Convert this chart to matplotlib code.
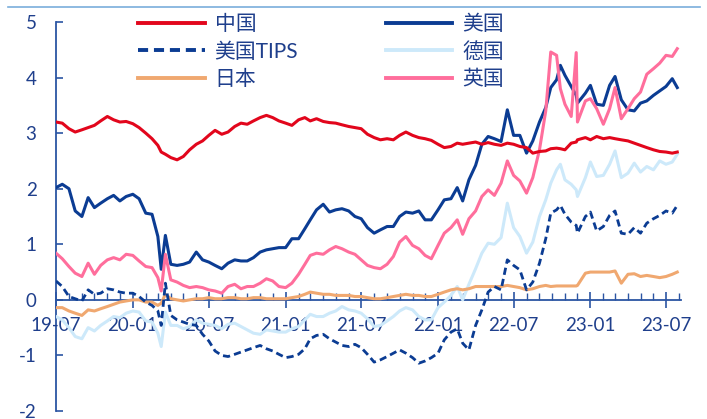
import matplotlib
matplotlib.use("Agg")
import matplotlib.pyplot as plt
import matplotlib.dates as mdates
from matplotlib.lines import Line2D
import pandas as pd

plt.rcParams['font.family'] = ['Lato', 'Noto Sans CJK SC', 'DejaVu Sans']

# observation dates (roughly twice a month, plus a few turning points)
dates = [
    # 2019 H2
    "2019-07-01", "2019-07-16", "2019-08-01", "2019-08-16", "2019-09-01", "2019-09-16",
    "2019-10-01", "2019-10-16", "2019-11-01", "2019-11-16", "2019-12-01", "2019-12-16",
    # 2020 H1
    "2020-01-01", "2020-01-16", "2020-02-01", "2020-02-16", "2020-03-01", "2020-03-09",
    "2020-03-19", "2020-04-01", "2020-04-16", "2020-05-01", "2020-05-16", "2020-06-01",
    "2020-06-16",
    # 2020 H2
    "2020-07-01", "2020-07-16", "2020-08-01", "2020-08-16", "2020-09-01", "2020-09-16",
    "2020-10-01", "2020-10-16", "2020-11-01", "2020-11-16", "2020-12-01", "2020-12-16",
    # 2021 H1
    "2021-01-01", "2021-01-16", "2021-02-01", "2021-02-16", "2021-03-01", "2021-03-16",
    "2021-04-01", "2021-04-16", "2021-05-01", "2021-05-16", "2021-06-01", "2021-06-16",
    # 2021 H2
    "2021-07-01", "2021-07-16", "2021-08-01", "2021-08-16", "2021-09-01", "2021-09-16",
    "2021-10-01", "2021-10-16", "2021-11-01", "2021-11-16", "2021-12-01", "2021-12-16",
    # 2022 H1
    "2022-01-01", "2022-01-16", "2022-02-01", "2022-02-16", "2022-03-01", "2022-03-16",
    "2022-04-01", "2022-04-16", "2022-05-01", "2022-05-16", "2022-06-01", "2022-06-16",
    # 2022 H2
    "2022-07-01", "2022-07-16", "2022-08-01", "2022-08-16", "2022-09-01", "2022-09-16",
    "2022-09-28", "2022-10-12", "2022-10-21", "2022-11-01", "2022-11-16", "2022-11-28",
    "2022-12-01", "2022-12-20",
    # 2023
    "2023-01-01", "2023-01-16", "2023-02-01", "2023-02-16", "2023-03-01", "2023-03-16",
    "2023-04-01", "2023-04-16", "2023-05-01", "2023-05-16", "2023-06-01", "2023-06-16",
    "2023-07-01", "2023-07-16", "2023-07-28",
]

# 10-year government bond yields, %
china = [
    3.20, 3.18, 3.08, 3.02, 3.06, 3.10, 3.14, 3.22, 3.30, 3.24, 3.20, 3.21,
    3.17, 3.10, 3.00, 2.90, 2.78, 2.66, 2.62, 2.56, 2.52, 2.58, 2.70, 2.80, 2.86,
    2.96, 3.05, 2.98, 3.02, 3.12, 3.18, 3.16, 3.22, 3.28, 3.32, 3.28, 3.22,
    3.18, 3.14, 3.24, 3.28, 3.22, 3.26, 3.21, 3.19, 3.18, 3.15, 3.12, 3.10,
    3.08, 2.98, 2.92, 2.88, 2.90, 2.88, 2.96, 3.02, 2.96, 2.92, 2.90, 2.87,
    2.80, 2.74, 2.76, 2.82, 2.80, 2.82, 2.84, 2.80, 2.83, 2.80, 2.78, 2.82,
    2.80, 2.76, 2.74, 2.64, 2.67, 2.68, 2.72, 2.73, 2.72, 2.70, 2.82, 2.84, 2.88, 2.92,
    2.88, 2.94, 2.90, 2.92, 2.90, 2.88, 2.86, 2.82, 2.78, 2.74, 2.70, 2.67,
    2.66, 2.64, 2.66,
]
usa = [
    2.02, 2.08, 2.00, 1.60, 1.50, 1.84, 1.66, 1.74, 1.82, 1.88, 1.78, 1.86,
    1.90, 1.82, 1.56, 1.54, 1.14, 0.55, 1.16, 0.64, 0.62, 0.64, 0.68, 0.86, 0.72,
    0.68, 0.62, 0.56, 0.66, 0.72, 0.70, 0.70, 0.76, 0.86, 0.90, 0.92, 0.94,
    0.94, 1.10, 1.10, 1.28, 1.44, 1.62, 1.72, 1.58, 1.62, 1.64, 1.60, 1.50,
    1.46, 1.30, 1.20, 1.26, 1.32, 1.32, 1.50, 1.58, 1.56, 1.60, 1.44, 1.44,
    1.62, 1.80, 1.82, 2.02, 1.78, 2.16, 2.42, 2.80, 2.94, 2.90, 2.85, 3.42,
    2.96, 2.96, 2.64, 2.86, 3.20, 3.46, 3.82, 3.96, 4.22, 4.04, 3.84, 3.68, 3.54, 3.72,
    3.86, 3.52, 3.50, 3.86, 4.02, 3.60, 3.42, 3.40, 3.54, 3.58, 3.68, 3.76,
    3.84, 3.98, 3.82,
]
usa_tips = [
    0.34, 0.24, 0.06, 0.02, -0.02, 0.18, 0.10, 0.12, 0.20, 0.18, 0.14, 0.12,
    0.12, 0.06, -0.04, -0.10, -0.20, -0.46, 0.30, -0.28, -0.36, -0.40, -0.44, -0.46, -0.62,
    -0.74, -0.92, -1.00, -1.02, -0.98, -0.94, -0.90, -0.86, -0.82, -0.88, -0.92, -0.98,
    -1.04, -1.02, -0.98, -0.88, -0.70, -0.64, -0.62, -0.70, -0.76, -0.82, -0.84, -0.80,
    -0.86, -0.98, -1.12, -1.08, -1.02, -0.96, -0.90, -0.96, -1.04, -1.14, -1.10, -1.04,
    -0.96, -0.72, -0.58, -0.52, -0.78, -0.90, -0.46, -0.18, 0.14, 0.24, 0.18, 0.72,
    0.62, 0.54, 0.18, 0.32, 0.66, 1.10, 1.56, 1.62, 1.70, 1.54, 1.40, 1.34, 1.20, 1.50,
    1.58, 1.24, 1.32, 1.52, 1.60, 1.20, 1.18, 1.30, 1.20, 1.38, 1.46, 1.52,
    1.60, 1.56, 1.70,
]
germany = [
    -0.30, -0.36, -0.50, -0.66, -0.70, -0.50, -0.56, -0.46, -0.38, -0.30, -0.32, -0.24,
    -0.20, -0.22, -0.38, -0.40, -0.60, -0.84, -0.22, -0.46, -0.46, -0.52, -0.48, -0.36, -0.42,
    -0.44, -0.46, -0.52, -0.44, -0.42, -0.48, -0.54, -0.60, -0.62, -0.54, -0.56, -0.58,
    -0.58, -0.52, -0.48, -0.36, -0.26, -0.30, -0.30, -0.24, -0.20, -0.12, -0.18, -0.20,
    -0.24, -0.34, -0.48, -0.46, -0.38, -0.30, -0.20, -0.14, -0.18, -0.30, -0.36, -0.36,
    -0.14, -0.04, 0.08, 0.24, 0.00, 0.28, 0.56, 0.84, 1.02, 1.00, 1.12, 1.74,
    1.30, 1.14, 0.84, 1.04, 1.50, 1.80, 2.10, 2.34, 2.44, 2.16, 2.08, 1.98, 1.86, 2.20,
    2.48, 2.22, 2.24, 2.44, 2.68, 2.20, 2.28, 2.46, 2.30, 2.40, 2.34, 2.50,
    2.44, 2.48, 2.62,
]
japan = [
    -0.14, -0.14, -0.20, -0.24, -0.28, -0.18, -0.20, -0.16, -0.12, -0.08, -0.04, -0.02,
    0.00, 0.00, -0.04, -0.04, -0.10, -0.06, 0.10, 0.02, 0.00, -0.02, 0.00, 0.02, 0.02,
    0.04, 0.02, 0.02, 0.04, 0.04, 0.02, 0.02, 0.04, 0.04, 0.02, 0.02, 0.02,
    0.02, 0.04, 0.06, 0.10, 0.14, 0.12, 0.10, 0.10, 0.08, 0.08, 0.08, 0.06,
    0.06, 0.04, 0.02, 0.02, 0.04, 0.06, 0.08, 0.10, 0.08, 0.08, 0.06, 0.06,
    0.10, 0.14, 0.18, 0.20, 0.18, 0.20, 0.24, 0.24, 0.24, 0.24, 0.24, 0.26,
    0.24, 0.22, 0.18, 0.20, 0.24, 0.26, 0.24, 0.25, 0.25, 0.25, 0.25, 0.25, 0.26, 0.48,
    0.50, 0.50, 0.50, 0.50, 0.52, 0.30, 0.46, 0.47, 0.42, 0.44, 0.42, 0.40,
    0.42, 0.46, 0.50,
]
uk = [
    0.84, 0.74, 0.60, 0.48, 0.42, 0.66, 0.46, 0.62, 0.72, 0.76, 0.72, 0.82,
    0.80, 0.70, 0.60, 0.58, 0.40, 0.16, 0.82, 0.36, 0.32, 0.26, 0.22, 0.24, 0.22,
    0.18, 0.16, 0.12, 0.24, 0.28, 0.20, 0.24, 0.24, 0.30, 0.38, 0.34, 0.24,
    0.22, 0.30, 0.46, 0.64, 0.80, 0.84, 0.82, 0.90, 0.96, 0.92, 0.86, 0.82,
    0.72, 0.62, 0.58, 0.56, 0.64, 0.78, 1.04, 1.14, 0.98, 0.92, 0.80, 0.74,
    0.98, 1.20, 1.30, 1.44, 1.18, 1.46, 1.60, 1.86, 1.98, 1.88, 2.10, 2.50,
    2.24, 2.14, 1.92, 2.20, 2.70, 3.40, 4.46, 4.40, 3.80, 3.52, 3.30, 4.45, 3.20, 3.58,
    3.62, 3.44, 3.16, 3.44, 3.82, 3.26, 3.44, 3.62, 3.74, 4.06, 4.16, 4.26,
    4.40, 4.38, 4.52,
]

labels = ["中国", "美国", "美国TIPS", "德国", "日本", "英国"]
y_ticks = [-2, -1, 0, 1, 2, 3, 4, 5]

x = pd.to_datetime(dates)

AXIS_BLUE = "#2B55A3"
TEXT_BLUE = "#1F3F8C"

fig = plt.figure(figsize=(7.07, 4.19), dpi=100)
ax = fig.add_axes([56 / 707, 8 / 419, 624.6 / 707, 389 / 419])

lw = 2.2
l_de, = ax.plot(x, germany, color="#CDE9FA", lw=lw, label=labels[3], zorder=2)
l_jp, = ax.plot(x, japan, color="#F0A870", lw=lw, label=labels[4], zorder=3)
l_tips, = ax.plot(x, usa_tips, color="#0B3C93", lw=2.0, ls=(0, (2.6, 1.5)),
                  label=labels[2], zorder=4)
l_us, = ax.plot(x, usa, color="#0B3C93", lw=lw, label=labels[1], zorder=5)
l_uk, = ax.plot(x, uk, color="#FF6E9C", lw=lw, label=labels[5], zorder=6)
l_cn, = ax.plot(x, china, color="#E2061C", lw=lw, label=labels[0], zorder=7)

ax.set_xlim(pd.Timestamp("2019-07-01"), pd.Timestamp("2023-08-05"))
ax.set_ylim(-2, 5)
ax.set_yticks(y_ticks)
ax.set_yticklabels([str(v) for v in y_ticks])

ax.xaxis.set_major_locator(mdates.MonthLocator(bymonth=(1, 7)))
ax.xaxis.set_major_formatter(mdates.DateFormatter("%y-%m"))
ax.xaxis.set_minor_locator(mdates.MonthLocator())

for side in ("top", "right"):
    ax.spines[side].set_visible(False)
ax.spines["bottom"].set_position(("data", 0))
for side in ("left", "bottom"):
    ax.spines[side].set_color(AXIS_BLUE)
    ax.spines[side].set_linewidth(1.3)
    ax.spines[side].set_zorder(1)

ax.tick_params(axis="y", direction="in", length=5, width=1.2, color=AXIS_BLUE,
               labelcolor=TEXT_BLUE, labelsize=13.5, pad=14)
ax.tick_params(axis="x", which="major", direction="inout", length=11, width=1.2,
               color=AXIS_BLUE, labelcolor=TEXT_BLUE, labelsize=13.5, pad=7)
ax.tick_params(axis="x", which="minor", direction="in", length=5, width=1.0,
               color=AXIS_BLUE)
ax.patch.set_alpha(0)

handles = [l_cn, l_tips, l_jp, l_us, l_de, l_uk]
leg = ax.legend(handles=handles, labels=[h.get_label() for h in handles], ncol=2,
                loc="upper left", bbox_to_anchor=(138 / 707, 1 - 14 / 419),
                bbox_transform=fig.transFigure, frameon=False, fontsize=15,
                handlelength=3.2, handletextpad=0.48, columnspacing=4.2,
                labelspacing=0.36, borderpad=0, borderaxespad=0)
for t in leg.get_texts():
    t.set_color(TEXT_BLUE)
for h in leg.legend_handles:
    h.set_linewidth(2.8)

# thin header rule across the top of the figure
fig.add_artist(Line2D([8 / 707, 700 / 707], [1 - 7 / 419, 1 - 7 / 419],
                      transform=fig.transFigure, color="#7AAEDC", lw=1.2))

fig.savefig("out.png", dpi=100)
